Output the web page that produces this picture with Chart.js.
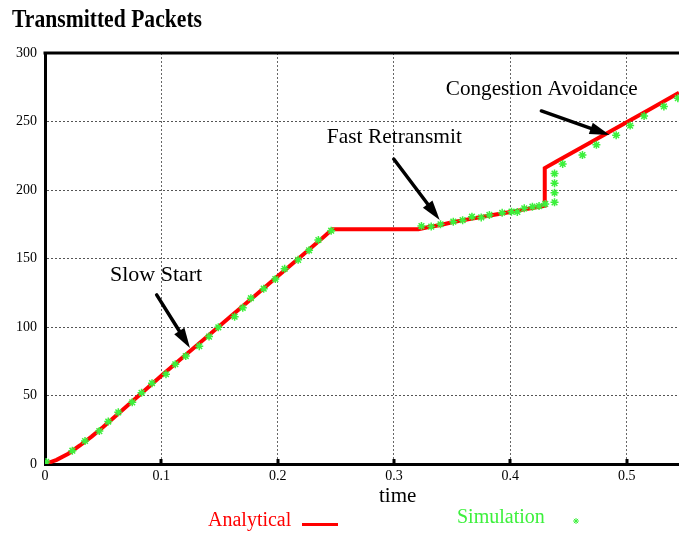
<!DOCTYPE html>
<html>
<head>
<meta charset="utf-8">
<title>Transmitted Packets</title>
<script src="https://cdn.jsdelivr.net/npm/chart.js@4/dist/chart.umd.min.js"></script>
<style>
  html, body { margin: 0; padding: 0; background: #fff; }
  canvas { display: block; }
</style>
</head>
<body>
<canvas id="c" width="679" height="534"></canvas>
<script>
// Axis ticks
const xTicks = [0, 0.1, 0.2, 0.3, 0.4, 0.5];
const xTickLabels = ['0', '0.1', '0.2', '0.3', '0.4', '0.5'];
const yTicks = [0, 50, 100, 150, 200, 250, 300];

// Analytical model: packets sent over time
const analyticalTime = [0, 0.01, 0.02, 0.03, 0.04, 0.05, 0.06, 0.07, 0.08, 0.09, 0.10,
  0.12, 0.14, 0.16, 0.18, 0.20, 0.22, 0.24, 0.247, 0.321, 0.33, 0.34, 0.35, 0.36,
  0.37, 0.38, 0.39, 0.40, 0.41, 0.42, 0.4296, 0.4296, 0.44, 0.46, 0.48, 0.50, 0.52, 0.545];
const analyticalPackets = [0, 3, 7.5, 13.5, 20, 27, 34.5, 42, 49.5, 57, 64.5,
  79, 93.5, 108, 122.5, 137, 151.5, 166, 171.3, 171.3, 173, 174.5, 176.5, 178,
  179.5, 181, 182.5, 184, 185.5, 187, 188.5, 216, 221, 230.5, 240, 249.5, 259, 271];

// Simulation samples
const simTime = [0.001, 0.0235, 0.0344, 0.0467, 0.0544, 0.063, 0.075, 0.083, 0.092, 0.104,
  0.112, 0.121, 0.1326, 0.141, 0.149, 0.163, 0.170, 0.177, 0.188, 0.198, 0.206, 0.2176,
  0.227, 0.235, 0.246, 0.3236, 0.332, 0.340, 0.351, 0.359, 0.367, 0.375, 0.382, 0.393,
  0.401, 0.406, 0.412, 0.419, 0.4247, 0.430, 0.438, 0.438, 0.438, 0.438, 0.445, 0.462,
  0.474, 0.491, 0.503, 0.515, 0.532, 0.544];
const simPackets = [1.5, 9.7, 16.8, 24, 31, 37.7, 45, 52, 59, 65.5,
  72.8, 78.8, 86, 93, 99.8, 107.5, 114, 121, 128, 135, 142.5, 149,
  156, 163.5, 170.3, 173.7, 173.3, 175, 176.9, 178, 180.5, 180, 181.8, 183.4,
  184.2, 184, 186.6, 187.8, 188.3, 189.8, 191, 198, 205, 212, 219, 225.5,
  233, 240, 247, 254, 261, 267];

// Phase annotations (data units): label anchor and arrow tail -> tip
const phaseLabels = ['Slow Start', 'Fast Retransmit', 'Congestion Avoidance'];
const phaseLabelAt = [[0.0558, 133.6], [0.2423, 234], [0.3445, 269.3]];
const phaseArrowTail = [[0.096, 123.4], [0.2998, 222.6], [0.4267, 257.7]];
const phaseArrowTip = [[0.1246, 84.7], [0.3393, 178.1], [0.4854, 240.1]];

const RED = '#ff0000';
const GREEN = '#3cf03c';
const SERIF = '"Liberation Serif", "DejaVu Serif", serif';

function drawArrow(ctx, x1, y1, x2, y2) {
  const ang = Math.atan2(y2 - y1, x2 - x1);
  const headLen = 20, headHalf = 6;
  const bx = x2 - headLen * Math.cos(ang), by = y2 - headLen * Math.sin(ang);
  ctx.save();
  ctx.strokeStyle = '#000';
  ctx.fillStyle = '#000';
  ctx.lineWidth = 3.5;
  ctx.lineCap = 'round';
  ctx.beginPath();
  ctx.moveTo(x1, y1);
  ctx.lineTo(bx, by);
  ctx.stroke();
  ctx.beginPath();
  ctx.moveTo(x2, y2);
  ctx.lineTo(bx + headHalf * Math.sin(ang), by - headHalf * Math.cos(ang));
  ctx.lineTo(bx - headHalf * Math.sin(ang), by + headHalf * Math.cos(ang));
  ctx.closePath();
  ctx.fill();
  ctx.restore();
}

const decorations = {
  id: 'decorations',
  afterDraw(chart) {
    const ctx = chart.ctx;
    const xs = chart.scales.x, ys = chart.scales.y;
    const area = chart.chartArea;
    ctx.save();

    // top frame line
    ctx.strokeStyle = '#000';
    ctx.lineWidth = 3;
    ctx.beginPath();
    ctx.moveTo(area.left - 1.5, area.top);
    ctx.lineTo(chart.width, area.top);
    ctx.stroke();

    // inward tick marks on the time axis
    ctx.fillStyle = '#000';
    xTicks.forEach(v => {
      if (v === 0) return;
      const px = xs.getPixelForValue(v);
      ctx.fillRect(Math.round(px) - 1.5, area.bottom - 5, 3, 5);
    });

    // title
    ctx.fillStyle = '#000';
    ctx.textBaseline = 'alphabetic';
    ctx.textAlign = 'left';
    ctx.font = 'bold 25px ' + SERIF;
    ctx.fillText('Transmitted Packets', 12, 27, 190);

    // x axis title
    ctx.font = '21px ' + SERIF;
    ctx.fillText('time', 379, 502, 38);

    // phase labels and arrows
    ctx.font = '22px ' + SERIF;
    const widths = [93, 135, 192];
    phaseLabels.forEach((t, i) => {
      ctx.fillStyle = '#000';
      ctx.fillText(t, xs.getPixelForValue(phaseLabelAt[i][0]), ys.getPixelForValue(phaseLabelAt[i][1]), widths[i]);
      drawArrow(ctx,
        xs.getPixelForValue(phaseArrowTail[i][0]), ys.getPixelForValue(phaseArrowTail[i][1]),
        xs.getPixelForValue(phaseArrowTip[i][0]), ys.getPixelForValue(phaseArrowTip[i][1]));
    });

    // legend
    ctx.font = '20px ' + SERIF;
    ctx.fillStyle = RED;
    ctx.fillText('Analytical', 208, 526, 86);
    ctx.fillRect(302, 523, 36, 3);
    ctx.fillStyle = GREEN;
    ctx.fillText('Simulation', 457, 523, 91);
    ctx.strokeStyle = GREEN;
    ctx.lineWidth = 1;
    const cx = 576, cy = 521, r = 3;
    ctx.beginPath();
    for (let k = 0; k < 4; k++) {
      const a = k * Math.PI / 4;
      ctx.moveTo(cx - r * Math.cos(a), cy - r * Math.sin(a));
      ctx.lineTo(cx + r * Math.cos(a), cy + r * Math.sin(a));
    }
    ctx.stroke();

    ctx.restore();
  }
};

new Chart(document.getElementById('c'), {
  data: {
    datasets: [
      {
        type: 'scatter',
        label: 'Simulation',
        data: simTime.map((t, i) => ({ x: t, y: simPackets[i] })),
        pointStyle: 'star',
        pointRadius: 4,
        borderColor: GREEN,
        backgroundColor: GREEN,
        borderWidth: 1.5,
        order: 0
      },
      {
        type: 'line',
        label: 'Analytical',
        data: analyticalTime.map((t, i) => ({ x: t, y: analyticalPackets[i] })),
        borderColor: RED,
        backgroundColor: RED,
        borderWidth: 4,
        pointRadius: 0,
        tension: 0,
        fill: false,
        order: 1
      }
    ]
  },
  options: {
    responsive: false,
    animation: false,
    events: [],
    devicePixelRatio: 1,
    layout: { autoPadding: false, padding: { top: 53, right: 0, left: 0, bottom: 0 } },
    plugins: { legend: { display: false }, tooltip: { enabled: false }, title: { display: false } },
    scales: {
      x: {
        type: 'linear',
        min: 0,
        max: 0.545,
        afterBuildTicks: s => { s.ticks = xTicks.map(v => ({ value: v })); },
        afterFit: s => { s.height = 70; s.paddingLeft = 0; s.paddingRight = 0; },
        ticks: {
          callback: (v) => { const i = xTicks.indexOf(v); return i >= 0 ? xTickLabels[i] : ''; },
          color: '#000',
          font: { family: SERIF, size: 14 },
          padding: 4,
          maxRotation: 0,
          autoSkip: false
        },
        grid: {
          drawTicks: false,
          color: ctx => (ctx.tick && ctx.tick.value === 0) ? 'rgba(0,0,0,0)' : '#666',
          lineWidth: 1
        },
        border: { display: true, color: '#000', width: 3, dash: [2, 2] }
      },
      y: {
        type: 'linear',
        min: 0,
        max: 300,
        afterBuildTicks: s => { s.ticks = yTicks.map(v => ({ value: v })); },
        afterFit: s => { s.width = 45; s.paddingTop = 0; s.paddingBottom = 0; },
        ticks: {
          color: '#000',
          font: { family: SERIF, size: 14 },
          padding: 8,
          autoSkip: false
        },
        grid: {
          drawTicks: false,
          color: ctx => (ctx.tick && (ctx.tick.value === 0 || ctx.tick.value === 300)) ? 'rgba(0,0,0,0)' : '#555',
          lineWidth: 1
        },
        border: { display: true, color: '#000', width: 3, dash: [2, 2] }
      }
    }
  },
  plugins: [decorations]
});
</script>
</body>
</html>
